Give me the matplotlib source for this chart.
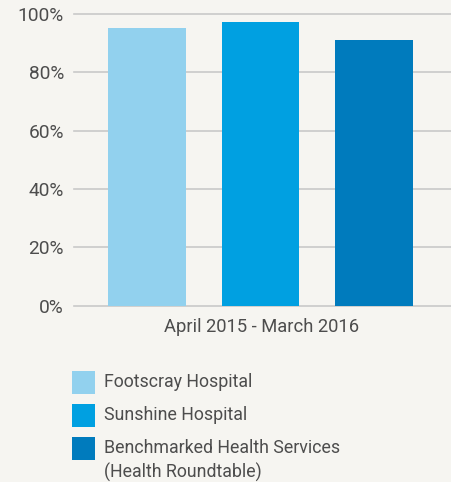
import matplotlib
matplotlib.use("Agg")
import matplotlib.pyplot as plt
from matplotlib.patches import Rectangle
import numpy as np

categories = ["Footscray Hospital", "Sunshine Hospital", "Benchmarked Health Services\n(Health Roundtable)"]
values = [95.2, 97.3, 91.1]
colors = ["#92d1ee", "#00a0e1", "#007bbd"]
yticks = [0, 20, 40, 60, 80, 100]
ytick_labels = ["0%", "20%", "40%", "60%", "80%", "100%"]
xlabel = "April 2015 - March 2016"

bg = "#f6f5f1"
txt = "#4d4d4d"
plt.rcParams["font.family"] = ["Roboto", "DejaVu Sans"]

W, H = 452, 482
fig = plt.figure(figsize=(W / 100, H / 100), dpi=100, facecolor=bg)
ax = fig.add_axes([74 / W, 1 - 305.7 / H, 1 - 74 / W, (305.7 - 14) / H])
ax.set_facecolor(bg)

x = np.arange(len(values))
ax.bar(x, values, width=0.687, color=colors, zorder=3)
ax.set_xlim(-0.643, 2.687)
ax.set_ylim(0, 100)
ax.set_yticks(yticks)
ax.set_yticklabels(ytick_labels)
ax.yaxis.grid(True, color="#c9c9c9", linewidth=1.2, zorder=0)
ax.set_axisbelow(True)
for s in ax.spines.values():
    s.set_visible(False)
ax.tick_params(axis="y", length=0, pad=7.2, labelsize=13.8, labelcolor=txt)
ax.set_xticks([])
for gl in ax.get_ygridlines():
    gl.set_clip_on(False)

fig.text(262 / W, 1 - 327.5 / H, xlabel, ha="center", va="center", fontsize=13.2, color=txt)

# legend (manual)
ys = [382, 415, 448]
for lab, c, yc in zip(categories, colors, ys):
    fig.patches.append(Rectangle((72 / W, 1 - (yc + 11.5) / H), 23 / W, 23 / H,
                                 transform=fig.transFigure, facecolor=c, edgecolor="none"))
    lines = lab.split("\n")
    for i, ln in enumerate(lines):
        fig.text(104 / W, 1 - (yc + i * 24) / H, ln, ha="left", va="center", fontsize=12.8, color=txt)

fig.savefig("out.png", dpi=100, facecolor=bg)
